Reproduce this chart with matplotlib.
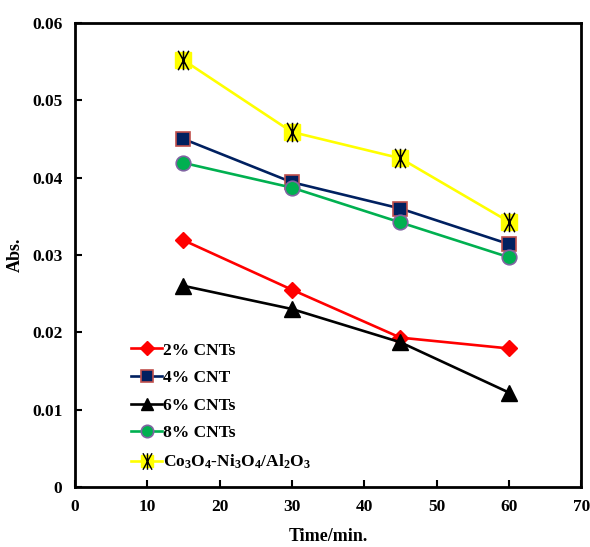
import matplotlib
matplotlib.use('Agg')
from matplotlib import pyplot as plt
from matplotlib.lines import Line2D
from matplotlib.path import Path

# time points (min.) and absorbance per sample
times = [15, 30, 45, 60]
cnt2 = [0.0319, 0.0255, 0.0193, 0.0179]
cnt4 = [0.0450, 0.0394, 0.0360, 0.0314]
cnt6 = [0.0260, 0.0230, 0.0187, 0.0122]
cnt8 = [0.0419, 0.0387, 0.0342, 0.0297]
ref = [0.0552, 0.0459, 0.0425, 0.0343]

labels = ['2% CNTs', '4% CNT', '6% CNTs', '8% CNTs',
          r'Co$_3$O$_4$-Ni$_3$O$_4$/Al$_2$O$_3$']

plt.rcParams['font.family'] = 'Liberation Serif'
plt.rcParams['font.weight'] = 'bold'
plt.rcParams['mathtext.fontset'] = 'custom'
plt.rcParams['mathtext.rm'] = 'Liberation Serif:bold'
plt.rcParams['mathtext.it'] = 'Liberation Serif:bold'
plt.rcParams['mathtext.bf'] = 'Liberation Serif:bold'

# tall asterisk: vertical bar plus narrow X
M, L = Path.MOVETO, Path.LINETO
aster = Path([(0, -1), (0, 1), (-0.55, -1), (0.55, 1), (0.55, -1), (-0.55, 1)],
             [M, L, M, L, M, L])

fig = plt.figure(figsize=(5.9, 5.47), dpi=100)
ax = fig.add_axes([0.127, 0.110, 0.858, 0.848])

lw = 1.9
ms = 10.5
h1, = ax.plot(times, cnt2, color='#FF0000', lw=lw, marker='D', ms=ms - 2,
              mfc='#FF0000', mec='#FF0000')
h2, = ax.plot(times, cnt4, color='#002060', lw=lw, marker='s', ms=ms,
              mfc='#002060', mec='#C0504D', mew=1.2)
h3, = ax.plot(times, cnt6, color='black', lw=lw, marker='^', ms=ms + 0.5,
              mfc='black', mec='black')
h4, = ax.plot(times, cnt8, color='#00B050', lw=lw, marker='o', ms=ms,
              mfc='#00B050', mec='#8064A2', mew=1.2)
h5, = ax.plot(times, ref, color='#FFFF00', lw=lw, marker='s', ms=ms + 0.5,
              mfc='#FFFF00', mec='#FFFF00')
h5b, = ax.plot(times, ref, ls='none', marker=aster, ms=ms + 3.5,
               mec='black', mfc='none', mew=1.1)

ax.set_xlim(0, 70)
ax.set_ylim(0, 0.06)
ax.set_xticks(range(0, 71, 10))
ax.set_yticks([0, 0.01, 0.02, 0.03, 0.04, 0.05, 0.06])
ax.set_yticklabels(['0', '0.01', '0.02', '0.03', '0.04', '0.05', '0.06'])
ax.tick_params(direction='in', length=5, width=1.5, labelsize=12.5, pad=9,
               top=False, right=False)
for s in ax.spines.values():
    s.set_linewidth(2)

ax.set_xlabel('Time/min.', fontsize=13, fontweight='bold', labelpad=9)
ax.set_ylabel('Abs.', fontsize=13, fontweight='bold', labelpad=6)

# legend handles: line with marker in the middle
def handle(line, scale=0.85):
    return Line2D([], [], color=line.get_color(), lw=lw, marker=line.get_marker(),
                  ms=line.get_markersize() * scale, mfc=line.get_mfc(),
                  mec=line.get_mec(), mew=line.get_mew())

star = Line2D([], [], ls='none', marker=aster, ms=(ms + 3.5) * 0.85,
              mec='black', mfc='none', mew=1.0)
handles = [handle(h1), handle(h2), handle(h3), handle(h4), (handle(h5), star)]
ax.legend(handles, labels, loc='lower left', bbox_to_anchor=(0.08, 0.0),
          frameon=False, fontsize=12.5, handlelength=1.8, handletextpad=0.05,
          labelspacing=0.66, numpoints=1)

fig.savefig('out.png', dpi=100)
